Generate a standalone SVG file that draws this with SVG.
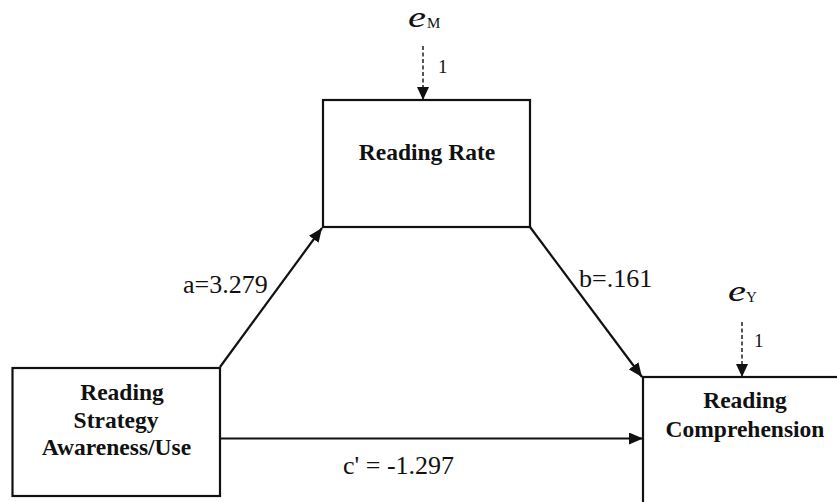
<svg xmlns="http://www.w3.org/2000/svg" width="837" height="502" viewBox="0 0 837 502">
<style>
text{font-family:'Liberation Serif','DejaVu Serif',serif;fill:#111}
.box{fill:#fff;stroke:#111;stroke-width:2.2}
.node{font-weight:bold;font-size:23.5px;text-anchor:middle}
.lbl{font-size:26px}
.err{font-style:italic;font-size:30px}
.sub{font-size:15px}
.one{font-size:19px}
.edge{stroke:#111;stroke-width:2.2;fill:none}
.dash{stroke:#111;stroke-width:1.4;fill:none;stroke-dasharray:4 2.5}
</style>
<defs>
<marker id="ah" markerUnits="userSpaceOnUse" markerWidth="14" markerHeight="12" refX="14" refY="6" orient="auto">
<path d="M0,0 L14,6 L0,12 z" fill="#111"/>
</marker>
<marker id="ahd" markerUnits="userSpaceOnUse" markerWidth="13" markerHeight="12" refX="13" refY="6" orient="auto">
<path d="M0,0 L13,6 L0,12 z" fill="#111"/>
</marker>
</defs>
<g id="connectors">
<line class="edge" x1="220" y1="367" x2="322" y2="228" marker-end="url(#ah)"/>
<line class="edge" x1="530" y1="227" x2="642" y2="377" marker-end="url(#ah)"/>
<line class="edge" x1="220" y1="438.5" x2="643" y2="438.5" marker-end="url(#ah)"/>
<line class="dash" x1="423" y1="46" x2="423" y2="100" marker-end="url(#ahd)"/>
<line class="dash" x1="742" y1="322" x2="742" y2="377" marker-end="url(#ahd)"/>
<text class="lbl" x="183" y="293">a=3.279</text>
<text class="lbl" x="579" y="287">b=.161</text>
<text class="lbl" x="343" y="474">c' = -1.297</text>
<text class="one" x="438" y="73">1</text>
<text class="one" x="754" y="347">1</text>
</g>
<g id="eM">
<text class="err" x="408" y="27" textLength="18" lengthAdjust="spacingAndGlyphs">e</text>
<text class="sub" x="427" y="27.5">M</text>
</g>
<g id="eY">
<text class="err" x="728" y="301" textLength="18" lengthAdjust="spacingAndGlyphs">e</text>
<text class="sub" x="746" y="301.5">Y</text>
</g>
<g id="rate">
<rect class="box" x="323" y="100" width="207" height="127"/>
<text class="node" x="427" y="160">Reading Rate</text>
</g>
<g id="strategy">
<rect class="box" x="12.5" y="368" width="207.5" height="128"/>
<text class="node" x="122" y="400">Reading</text>
<text class="node" x="116" y="428">Strategy</text>
<text class="node" x="116.5" y="455">Awareness/Use</text>
</g>
<g id="comprehension">
<rect class="box" x="643" y="377" width="210" height="140"/>
<text class="node" x="745" y="408">Reading</text>
<text class="node" x="745" y="437">Comprehension</text>
</g>
</svg>
